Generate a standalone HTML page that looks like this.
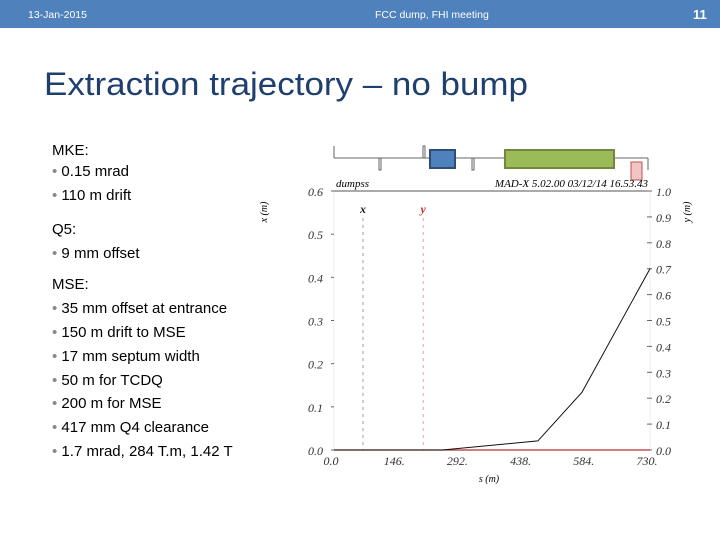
<!DOCTYPE html>
<html><head><meta charset="utf-8"><style>
body{margin:0;width:720px;height:540px;overflow:hidden;background:#fff;font-family:"Liberation Sans",sans-serif;}
</style></head><body>
<svg width="720" height="540" xmlns="http://www.w3.org/2000/svg">
<rect x="0" y="0" width="720" height="28" fill="#4F81BD"/>
<text x="28" y="18" font-size="10.5" fill="#fff">13-Jan-2015</text>
<text x="375" y="18" font-size="10.5" fill="#fff">FCC dump, FHI meeting</text>
<text x="693" y="19" font-size="13" fill="#fff" font-weight="bold">11</text>
<text x="44" y="95" font-size="32" fill="#1F3F6E" textLength="484" lengthAdjust="spacingAndGlyphs">Extraction trajectory – no bump</text>
<g font-size="15" fill="#000">
<text x="52" y="155">MKE:</text>
<text x="52" y="176"><tspan fill="#888">•</tspan> 0.15 mrad</text>
<text x="52" y="200"><tspan fill="#888">•</tspan> 110 m drift</text>
<text x="52" y="234">Q5:</text>
<text x="52" y="258"><tspan fill="#888">•</tspan> 9 mm offset</text>
<text x="52" y="289">MSE:</text>
<text x="52" y="313"><tspan fill="#888">•</tspan> 35 mm offset at entrance</text>
<text x="52" y="337"><tspan fill="#888">•</tspan> 150 m drift to MSE</text>
<text x="52" y="361"><tspan fill="#888">•</tspan> 17 mm septum width</text>
<text x="52" y="385"><tspan fill="#888">•</tspan> 50 m for TCDQ</text>
<text x="52" y="408"><tspan fill="#888">•</tspan> 200 m for MSE</text>
<text x="52" y="432"><tspan fill="#888">•</tspan> 417 mm Q4 clearance</text>
<text x="52" y="456"><tspan fill="#888">•</tspan> 1.7 mrad, 284 T.m, 1.42 T</text>
</g>
<g stroke="#666" fill="none">
<line x1="334" y1="158" x2="648" y2="158"/>
<line x1="334" y1="146" x2="334" y2="158"/>
<rect x="379" y="158" width="2" height="12"/>
<rect x="423" y="146" width="2" height="12"/>
<rect x="430" y="150" width="25" height="18" fill="#4F81BD" stroke="#2C4D75" stroke-width="2"/>
<rect x="472" y="158" width="2" height="12"/>
<rect x="505" y="150" width="109" height="18" fill="#9BBB59" stroke="#71893F" stroke-width="2"/>
<rect x="631" y="162" width="11" height="18" fill="#F2C4C4" stroke="#C0504D"/>
<line x1="648" y1="158" x2="648" y2="170"/>
</g>
<g id="chart" font-family="Liberation Serif, serif" font-style="italic"></g>
</svg>
<script>
const sVals=[0,250,471,573,730];
const xVals=[0,0,0.021,0.134,0.42];
const xTicks=[0,0.1,0.2,0.3,0.4,0.5,0.6];
const xTickLabels=["0.0","0.1","0.2","0.3","0.4","0.5","0.6"];
const yTicks=[0,0.1,0.2,0.3,0.4,0.5,0.6,0.7,0.8,0.9,1.0];
const yTickLabels=["0.0","0.1","0.2","0.3","0.4","0.5","0.6","0.7","0.8","0.9","1.0"];
const sTicks=[0,146,292,438,584,730];
const sTickLabels=["0.0","146.","292.","438.","584.","730."];
const markerS=[67,206];
const NS="http://www.w3.org/2000/svg";
const L=334,R=650,T=191,B=450;
const sx=s=>L+s/730*(R-L);
const yx=v=>B-v/0.6*(B-T);
const yy=v=>B-v/1.0*(B-T);
const g=document.getElementById('chart');
function mk(tag,a,txt){const e=document.createElementNS(NS,tag);for(const k in a)e.setAttribute(k,a[k]);if(txt!=null)e.textContent=txt;g.appendChild(e);return e;}
let e;
e=mk('rect',{x:L,y:T,width:R-L,height:B-T,fill:'none',stroke:'#eee'});


e=mk('line',{x1:L,y1:T,x2:R,y2:T,stroke:'#555'});


e=mk('text',{x:L+2,y:T-4,'font-size':11},'dumpss');


e=mk('text',{x:R-2,y:T-4,'font-size':11,'text-anchor':'end'},'MAD-X 5.02.00  03/12/14 16.53.43');


xTicks.forEach((v,i)=>{
 e=mk('text',{x:323,y:yx(v)+5,'font-size':12,'text-anchor':'end',fill:'#333'},xTickLabels[i]);
 
 
 e=mk('line',{x1:L-3,y1:yx(v),x2:L,y2:yx(v),stroke:'#666'});
 
 
});
yTicks.forEach((v,i)=>{
 e=mk('text',{x:656,y:yy(v)+5,'font-size':12,fill:'#333'},yTickLabels[i]);
 
 
 e=mk('line',{x1:R-3,y1:yy(v),x2:R+2,y2:yy(v),stroke:'#666'});
 
 
});
sTicks.forEach((v,i)=>{
 e=mk('text',{x:sx(v)-3,y:465,'font-size':12,'text-anchor':'middle',fill:'#333'},sTickLabels[i]);
 
 
});
e=mk('text',{x:sx(0)+155,y:482,'font-size':10,'text-anchor':'middle'},'s (m)');


e=mk('text',{x:267,y:212,'font-size':10,'text-anchor':'middle',transform:'rotate(-90 267 212)'},'x (m)');


e=mk('text',{x:690,y:212,'font-size':10,'text-anchor':'middle',transform:'rotate(-90 690 212)'},'y (m)');


['#888','#d88'].forEach((c,i)=>{
 e=mk('line',{x1:sx(markerS[i]),y1:218,x2:sx(markerS[i]),y2:B,stroke:c,'stroke-dasharray':'3,4','stroke-width':0.8});
 
 
 e=mk('text',{x:sx(markerS[i]),y:213,'font-size':12,'font-weight':'bold','text-anchor':'middle',fill:i?'#c03030':'#222'},i?'y':'x');
 
 
});
e=mk('line',{x1:L,y1:B,x2:R,y2:B,stroke:'#b03030','stroke-width':1.3});


e=mk('polyline',{points:sVals.map((s,i)=>sx(s)+','+yx(xVals[i])).join(' '),fill:'none',stroke:'#111','stroke-width':1});


</script>
</body></html>
